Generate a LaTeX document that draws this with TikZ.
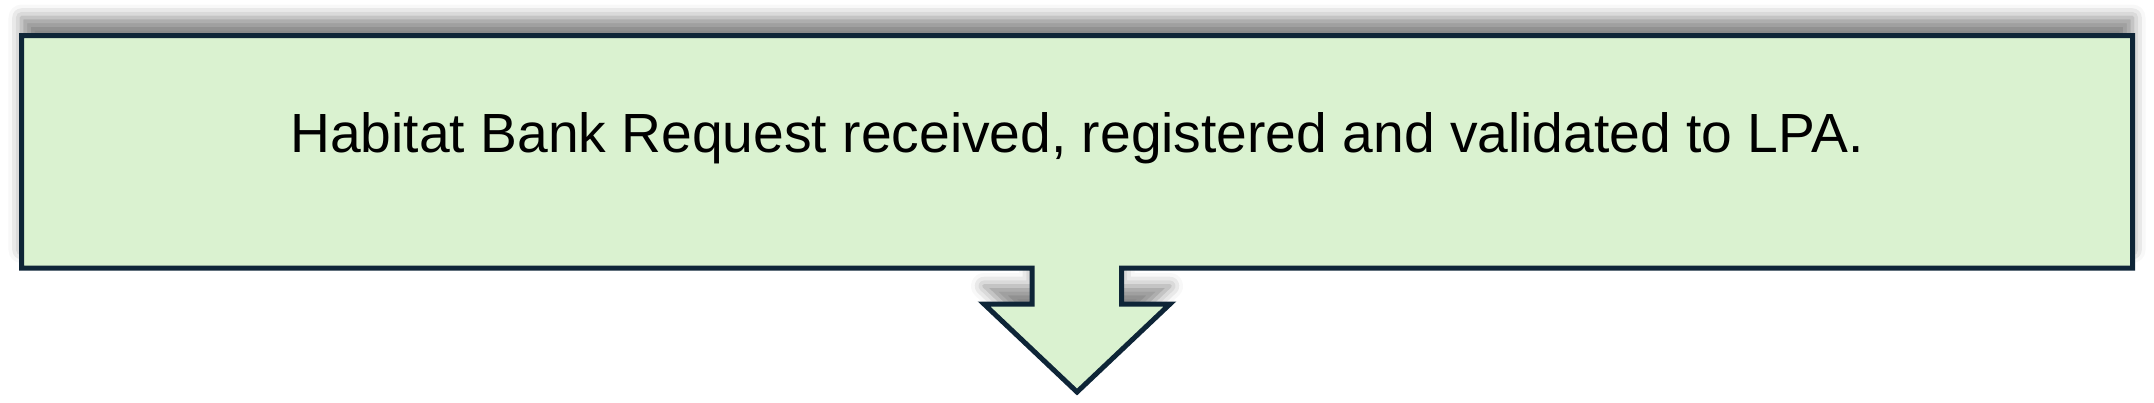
\documentclass[tikz,border=0pt]{standalone}
\usepackage{fontspec}
\setmainfont{Liberation Sans}
\usetikzlibrary{shadows.blur}
\definecolor{boxfill}{HTML}{DAF2D0}
\definecolor{boxline}{HTML}{0E2537}
\tikzset{
  calloutshape/.style={draw=boxline, fill=boxfill, line width=5pt, miter limit=10,
    blur shadow={shadow xshift=0pt, shadow yshift=18pt, shadow blur radius=13pt, shadow opacity=46}},
  calloutlabel/.style={font=\fontsize{55.2}{60}\selectfont, text=black, anchor=base, inner sep=0pt}
}
\begin{document}
\begin{tikzpicture}[x=1pt,y=-1pt]
\useasboundingbox (0,0) rectangle (2154,402);
\coordinate (tl) at (21.5,35.5);
\coordinate (tr) at (2132.5,35.5);
\coordinate (br) at (2132.5,268);
\coordinate (bl) at (21.5,268);
\coordinate (sr) at (1121.5,268);
\coordinate (sl) at (1032,268);
\coordinate (srb) at (1121.5,304);
\coordinate (slb) at (1032,304);
\coordinate (hr) at (1170,304);
\coordinate (hl) at (984,304);
\coordinate (tip) at (1077,392);
\path[calloutshape] (tl) -- (tr) -- (br) -- (sr) -- (srb) -- (hr) -- (tip) -- (hl) -- (slb) -- (sl) -- (bl) -- cycle;
\node[calloutlabel] (txt) at (1077,152) {Habitat Bank Request received, registered and validated to LPA.};
\end{tikzpicture}
\end{document}
